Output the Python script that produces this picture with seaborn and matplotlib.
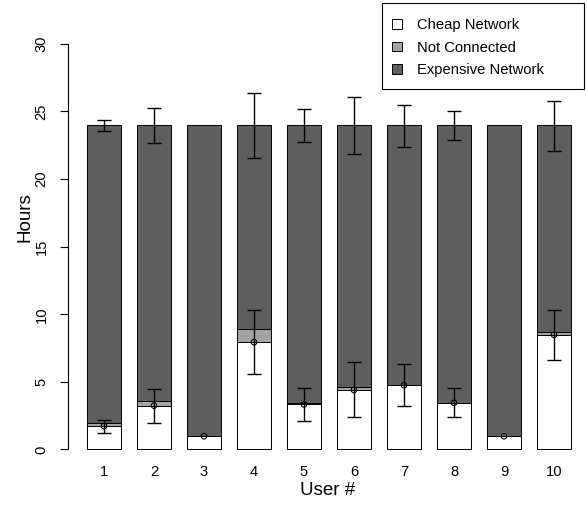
import numpy as np
import pandas as pd
import matplotlib
matplotlib.use("Agg")
import matplotlib.pyplot as plt
import matplotlib.patches as mpatches
import seaborn as sns

# ---- data ----
users = ["1", "2", "3", "4", "5", "6", "7", "8", "9", "10"]
cheap = [1.72, 3.24, 0.98, 7.93, 3.33, 4.40, 4.75, 3.45, 0.98, 8.48]
not_connected = [0.27, 0.36, 0.0, 0.97, 0.12, 0.23, 0.0, 0.0, 0.0, 0.22]
total_hours = [24, 24, 24, 24, 24, 24, 24, 24, 24, 24]
cheap_err_low = [1.25, 1.99, np.nan, 5.56, 2.10, 2.40, 3.21, 2.43, np.nan, 6.64]
cheap_err_high = [2.20, 4.49, np.nan, 10.29, 4.56, 6.47, 6.29, 4.56, np.nan, 10.34]
total_err_low = [23.53, 22.65, np.nan, 21.54, 22.72, 21.86, 22.40, 22.87, np.nan, 22.08]
total_err_high = [24.36, 25.26, np.nan, 26.35, 25.17, 26.03, 25.49, 25.00, np.nan, 25.78]
series_labels = ["Cheap Network", "Not Connected", "Expensive Network"]
series_colors = ["#FFFFFF", "#A3A3A3", "#5E5E5E"]
y_ticks = [0, 5, 10, 15, 20, 25, 30]

df = pd.DataFrame({
    "user": users,
    "cheap": cheap,
    "nc_top": np.array(cheap) + np.array(not_connected),
    "total": total_hours,
})

sns.set_style("white")
plt.rcParams["font.family"] = ["Liberation Sans", "DejaVu Sans"]
plt.rcParams["text.color"] = "black"
plt.rcParams["axes.labelcolor"] = "black"
plt.rcParams["xtick.color"] = "black"
plt.rcParams["ytick.color"] = "black"

fig = plt.figure(figsize=(5.87, 5.05), dpi=100)
ax = fig.add_axes([68 / 587, 1 - 465.7 / 505, (587 - 68) / 587, (465.7 - 27.5) / 505])

common = dict(x="user", order=users, width=0.667, edgecolor="black",
              linewidth=0.7, saturation=1, errorbar=None, ax=ax)
sns.barplot(data=df, y="total", color=series_colors[2], **common)
sns.barplot(data=df, y="nc_top", color=series_colors[1], **common)
sns.barplot(data=df, y="cheap", color=series_colors[0], **common)

pos = np.arange(len(users))
c = np.array(cheap)
ax.errorbar(pos, c, yerr=[c - np.array(cheap_err_low), np.array(cheap_err_high) - c],
            fmt="none", ecolor="black", elinewidth=1.0, capsize=5, capthick=1.0, zorder=5)
t = np.array(total_hours, dtype=float)
ax.errorbar(pos, t, yerr=[t - np.array(total_err_low), np.array(total_err_high) - t],
            fmt="none", ecolor="black", elinewidth=1.0, capsize=5, capthick=1.0, zorder=5)
ax.scatter(pos, c, s=16, facecolors="none", edgecolors="black", linewidths=0.8, zorder=6)

ax.set_xlim(-0.72, 9.66)
ax.set_ylim(-1.2, 31.2)
for s in ["top", "right", "bottom"]:
    ax.spines[s].set_visible(False)
ax.spines["left"].set_bounds(0, 30)
ax.spines["left"].set_color("black")
ax.spines["left"].set_linewidth(0.8)
ax.set_yticks(y_ticks)
ax.set_yticklabels([str(v) for v in y_ticks], rotation=90, va="center")
ax.tick_params(axis="y", left=True, length=6, width=0.8, color="black",
               pad=8, labelsize=10.6, labelcolor="black")
ax.tick_params(axis="x", bottom=False, length=0, pad=-0.5, labelsize=10.6, labelcolor="black")
ax.set_xlabel("User #", fontsize=13.5, color="black")
ax.set_ylabel("Hours", fontsize=13.5, color="black")
ax.xaxis.set_label_coords(0.5, -0.037)
ax.yaxis.set_label_coords(-0.066, 0.568)

handles = [mpatches.Patch(facecolor=col, edgecolor="black", linewidth=0.7)
           for col in series_colors]
leg = fig.legend(handles, series_labels, loc="upper left",
                 bbox_to_anchor=(392 / 587, 1 - 18.5 / 505), frameon=False,
                 fontsize=10.6, handlelength=0.65, handleheight=0.65,
                 handletextpad=1.05, labelspacing=0.56, borderpad=0, borderaxespad=0)
for txt in leg.get_texts():
    txt.set_color("black")
fig.patches.append(mpatches.Rectangle((382 / 587, 1 - 89.5 / 505), (584 - 382) / 587,
                                      (89.5 - 3) / 505, transform=fig.transFigure,
                                      facecolor="none", edgecolor="black", linewidth=0.8))

fig.savefig("out.png", dpi=100)
